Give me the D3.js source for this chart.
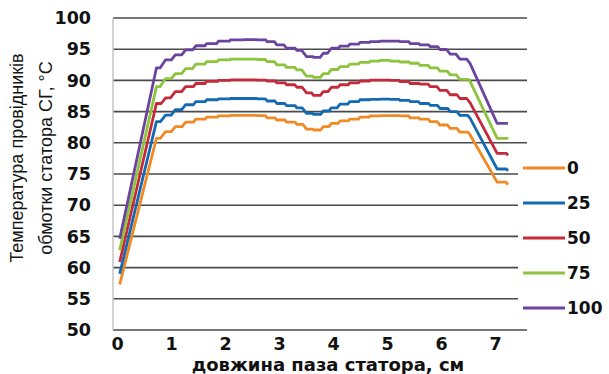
<!DOCTYPE html>
<html>
<head>
<meta charset="utf-8">
<script src="https://cdn.jsdelivr.net/npm/d3@7"></script>
<style>
  body { margin: 0; background: #fff; }
  svg { display: block; }
</style>
</head>
<body>
<div id="chart"></div>
<script>
// slot length positions, cm
var lengthCm = [0.05, 0.73, 0.9, 1.08, 1.27, 1.46, 1.66, 1.88, 2.1, 2.35, 2.6, 2.78, 2.96, 3.14, 3.33, 3.51, 3.64, 3.82, 3.97, 4.13, 4.31, 4.5, 4.69, 4.87, 5.06, 5.24, 5.43, 5.61, 5.8, 5.98, 6.17, 6.35, 6.54, 7.04, 7.24];

// conductor temperature, °C, one array per load level
var temp0 = [57.3, 80.7, 81.8, 82.6, 83.3, 83.8, 84.1, 84.3, 84.4, 84.4, 84.35, 84.0, 83.65, 83.3, 82.95, 82.2, 82.05, 82.6, 83.1, 83.5, 83.8, 84.1, 84.3, 84.35, 84.35, 84.3, 84.0, 83.8, 83.4, 82.85, 82.3, 81.7, 81.25, 73.7, 73.3];
var temp25 = [59.0, 83.4, 84.45, 85.3, 86.1, 86.6, 86.9, 87.05, 87.1, 87.1, 87.05, 86.7, 86.3, 85.95, 85.6, 84.7, 84.55, 85.1, 85.6, 86.2, 86.6, 86.9, 86.95, 87.0, 86.95, 86.8, 86.6, 86.3, 86.0, 85.5, 85.0, 84.4, 83.9, 75.8, 75.5];
var temp50 = [60.9, 86.3, 87.2, 88.2, 89.0, 89.5, 89.85, 90.0, 90.1, 90.1, 90.05, 89.9, 89.6, 89.3, 88.9, 88.0, 87.6, 88.2, 88.9, 89.3, 89.6, 89.9, 90.05, 90.05, 90.0, 89.8, 89.5, 89.4, 89.0, 88.4, 87.7, 87.1, 86.4, 78.3, 78.0];
var temp75 = [62.8, 89.0, 90.3, 91.1, 91.9, 92.6, 93.0, 93.3, 93.4, 93.4, 93.35, 93.0, 92.5, 92.1, 91.7, 90.7, 90.5, 91.1, 91.75, 92.2, 92.6, 92.9, 93.1, 93.2, 93.1, 92.95, 92.75, 92.4, 92.0, 91.5, 90.9, 90.15, 89.8, 80.7, 80.6];
var temp100 = [64.6, 92.0, 93.3, 94.1, 94.9, 95.55, 95.9, 96.3, 96.5, 96.55, 96.5, 96.2, 95.7, 95.15, 94.8, 93.8, 93.7, 94.35, 95.15, 95.5, 95.8, 96.1, 96.2, 96.3, 96.3, 96.2, 95.9, 95.7, 95.4, 94.95, 94.2, 93.4, 92.7, 83.1, 83.1];

var seriesNames = ["0", "25", "50", "75", "100"];
var seriesColours = ["#f08a24", "#1469b3", "#c52a3a", "#8cc43c", "#6c44a0"];

var xTicks = [0, 1, 2, 3, 4, 5, 6, 7];
var yTicks = [50, 55, 60, 65, 70, 75, 80, 85, 90, 95, 100];

var xTitle = "довжина паза статора, см";
var yTitle = ["Температура провідників", "обмотки статора СГ, °С"];


var width = 609;
var height = 374;

var svg = d3.select("#chart")
    .append("svg")
    .attr("width", width)
    .attr("height", height);

svg.append("rect").attr("width", width).attr("height", height).attr("fill", "#fff");

var plotLeft = 113;
var plotRight = 527;

var x = d3.scaleLinear().domain([0, 7]).range([117, 495]);
var y = d3.scaleLinear().domain([50, 100]).range([330, 18]);

// gridlines
svg.append("g")
    .selectAll("line")
    .data(yTicks)
    .enter()
    .append("line")
    .attr("x1", plotLeft)
    .attr("x2", plotRight)
    .attr("y1", function (d) { return y(d); })
    .attr("y2", function (d) { return y(d); })
    .attr("stroke", "#4a4a4a")
    .attr("stroke-width", 1.6);

// left axis line
svg.append("line")
    .attr("x1", plotLeft).attr("x2", plotLeft)
    .attr("y1", y(100)).attr("y2", y(50))
    .attr("stroke", "#c4c4c4")
    .attr("stroke-width", 1.5);

// tick labels
var tickFont = "'DejaVu Sans', Verdana, sans-serif";

var yAxis = d3.axisLeft(y).tickValues(yTicks).tickSize(0).tickPadding(0).tickFormat(d3.format("d"));
var yG = svg.append("g").attr("transform", "translate(91,0)").call(yAxis);
yG.select(".domain").remove();
yG.selectAll("text")
    .attr("font-family", tickFont)
    .attr("font-weight", "bold")
    .attr("font-size", 17.5)
    .attr("fill", "#111");

var xAxis = d3.axisBottom(x).tickValues(xTicks).tickSize(0).tickPadding(0).tickFormat(d3.format("d"));
var xG = svg.append("g").attr("transform", "translate(0,338)").call(xAxis);
xG.select(".domain").remove();
xG.selectAll("text")
    .attr("font-family", tickFont)
    .attr("font-weight", "bold")
    .attr("font-size", 17.5)
    .attr("fill", "#111");

// axis titles
svg.append("text")
    .attr("x", 328)
    .attr("y", 371)
    .attr("text-anchor", "middle")
    .attr("font-family", tickFont)
    .attr("font-weight", "bold")
    .attr("font-size", 18)
    .attr("fill", "#111")
    .text(xTitle);

svg.append("g")
    .attr("transform", "translate(0,158) rotate(-90)")
    .selectAll("text")
    .data(yTitle)
    .enter()
    .append("text")
    .attr("x", 0)
    .attr("y", function (d, i) { return 23 + i * 29; })
    .attr("text-anchor", "middle")
    .attr("font-family", "'Liberation Sans', Arial, sans-serif")
    .attr("font-size", 18)
    .attr("fill", "#151515")
    .text(function (d) { return d; });

// stepped look of the lines: close points are drawn as flat + riser,
// the riser gets wider for bigger changes
var stairPoints = function (xs, vs) {
    var pts = [[xs[0], vs[0]]];
    for (var i = 1; i < xs.length; i++) {
        var dx = xs[i] - xs[i - 1];
        var dv = Math.abs(vs[i] - vs[i - 1]);
        if (dv > 0 && dx < 0.3) {
            var r = Math.min(dx * 0.6, 0.045 * dv / 0.5);
            pts.push([xs[i] - r, vs[i - 1]]);
        }
        pts.push([xs[i], vs[i]]);
    }
    return pts;
};

var line = d3.line()
    .x(function (d) { return x(d[0]); })
    .y(function (d) { return y(d[1]); });

var allSeries = [temp0, temp25, temp50, temp75, temp100];

svg.append("g")
    .selectAll("path")
    .data(allSeries)
    .enter()
    .append("path")
    .attr("d", function (d) { return line(stairPoints(lengthCm, d)); })
    .attr("fill", "none")
    .attr("stroke", function (d, i) { return seriesColours[i]; })
    .attr("stroke-width", 2.8)
    .attr("stroke-linejoin", "round");

// legend
var legend = svg.append("g").attr("class", "legend");
legend.append("rect")
    .attr("x", 518).attr("y", 152)
    .attr("width", 91).attr("height", 170)
    .attr("fill", "#fff");

var items = legend.selectAll(".item")
    .data(seriesNames)
    .enter()
    .append("g")
    .attr("class", "item")
    .attr("transform", function (d, i) { return "translate(0," + (168 + i * 35) + ")"; });

items.append("line")
    .attr("x1", 523).attr("x2", 565)
    .attr("y1", 0).attr("y2", 0)
    .attr("stroke", function (d, i) { return seriesColours[i]; })
    .attr("stroke-width", 3);

items.append("text")
    .attr("x", 567)
    .attr("y", 6)
    .attr("font-family", tickFont)
    .attr("font-weight", "bold")
    .attr("font-size", 17)
    .attr("fill", "#111")
    .text(function (d) { return d; });
</script>
</body>
</html>
